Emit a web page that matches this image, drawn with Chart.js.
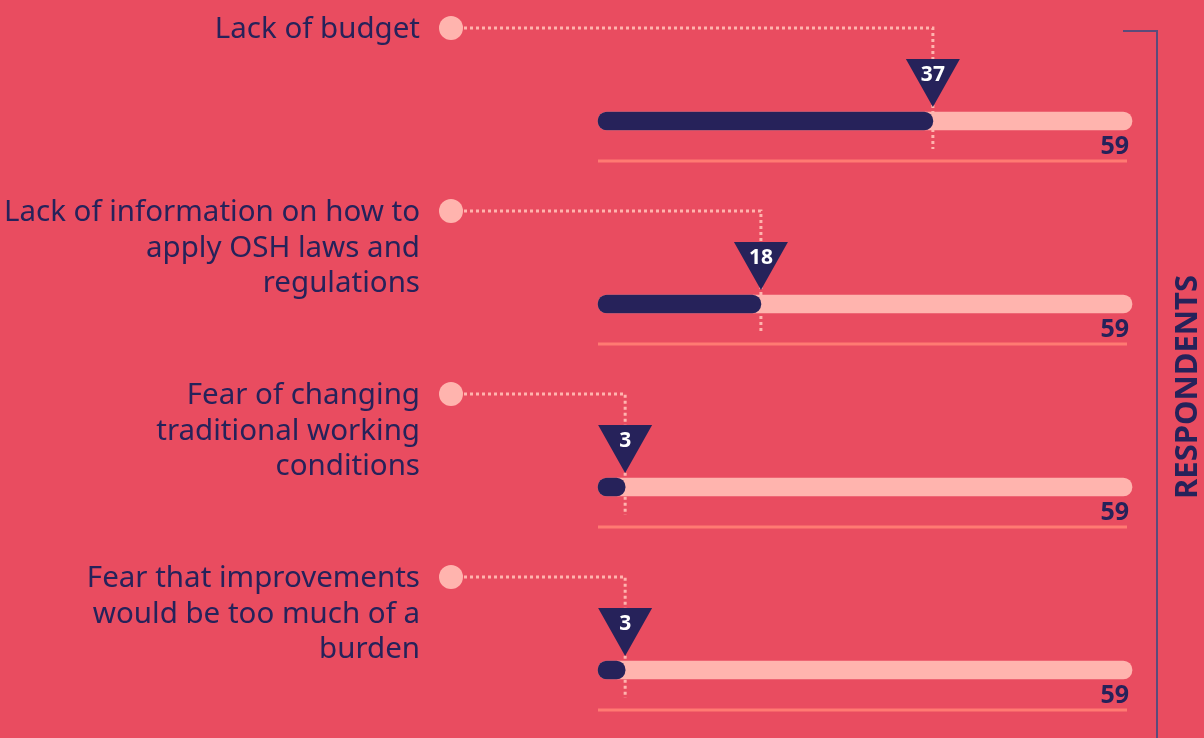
<!DOCTYPE html>
<html>
<head>
<meta charset="utf-8">
<script src="https://cdn.jsdelivr.net/npm/chart.js@4/dist/chart.umd.min.js"></script>
<style>
	html, body { margin: 0; padding: 0; background: #e94c60; overflow: hidden; }
	#wrap { position: relative; width: 1204px; height: 738px; }
</style>
</head>
<body>
<div id="wrap"><canvas id="chart"></canvas></div>
<script>
// chart data
const categories = [
	["Lack of budget"],
	["Lack of information on how to", "apply OSH laws and", "regulations"],
	["Fear of changing", "traditional working", "conditions"],
	["Fear that improvements", "would be too much of a", "burden"],
];
const respondents = [37, 18, 3, 3];
const totals = [59, 59, 59, 59];
const axisTitle = "RESPONDENTS";

const _navy_ = "#26225a";
const _pink_ = "#ffb4ae";
const _line_ = "#ff7a72";
const _bracket_ = "#5b4b7a";
const FONT = "'Noto Sans', 'Open Sans', sans-serif";

const decorPlugin = {
	id: "decor",
	beforeDatasetsDraw(chart) {
		const { ctx, scales } = chart;
		const { x, y } = scales;
		ctx.save();

		// bracket on the right
		ctx.strokeStyle = _bracket_;
		ctx.lineWidth = 2;
		ctx.beginPath();
		ctx.moveTo(1123, 31);
		ctx.lineTo(1157, 31);
		ctx.lineTo(1157, 738);
		ctx.stroke();

		respondents.forEach((value, i) => {
			const cy = y.getPixelForValue(i);
			const vx = x.getPixelForValue(value);
			const ly = cy - 93;

			// dotted connector
			ctx.strokeStyle = _pink_;
			ctx.lineWidth = 3;
			ctx.setLineDash([3, 3]);
			ctx.beginPath();
			ctx.moveTo(464, ly);
			ctx.lineTo(vx, ly);
			ctx.lineTo(vx, cy + 28);
			ctx.stroke();

			// underline
			ctx.setLineDash([]);
			ctx.strokeStyle = _line_;
			ctx.lineWidth = 3;
			ctx.beginPath();
			ctx.moveTo(x.left, cy + 40);
			ctx.lineTo(x.getPixelForValue(totals[i]) - 5, cy + 40);
			ctx.stroke();
		});
		ctx.restore();
	},
	afterDatasetsDraw(chart) {
		const { ctx, scales } = chart;
		const { x, y } = scales;
		ctx.save();

		respondents.forEach((value, i) => {
			const cy = y.getPixelForValue(i);
			const vx = x.getPixelForValue(value);
			const ly = cy - 93;

			// circle
			ctx.fillStyle = _pink_;
			ctx.beginPath();
			ctx.arc(451, ly, 12, 0, Math.PI * 2);
			ctx.fill();

			// category label
			ctx.fillStyle = _navy_;
			ctx.font = `29.5px ${FONT}`;
			ctx.textAlign = "right";
			ctx.textBaseline = "alphabetic";
			categories[i].forEach((line, k) => {
				ctx.fillText(line, 420, ly + 10 + k * 35.5);
			});

			// triangle marker
			ctx.fillStyle = _navy_;
			ctx.beginPath();
			ctx.moveTo(vx - 27, cy - 62);
			ctx.lineTo(vx + 27, cy - 62);
			ctx.lineTo(vx, cy - 14);
			ctx.closePath();
			ctx.fill();

			ctx.fillStyle = "#ffffff";
			ctx.font = `bold 21px ${FONT}`;
			ctx.textAlign = "center";
			ctx.textBaseline = "middle";
			ctx.fillText(String(value), vx, cy - 46);

			// total
			ctx.fillStyle = _navy_;
			ctx.font = `bold 25px ${FONT}`;
			ctx.textAlign = "right";
			ctx.textBaseline = "alphabetic";
			ctx.fillText(String(totals[i]), x.getPixelForValue(totals[i]) - 3, cy + 33);
		});

		// rotated axis title
		ctx.translate(1188, 387);
		ctx.rotate(-Math.PI / 2);
		ctx.fillStyle = _navy_;
		ctx.font = `bold 31px ${FONT}`;
		ctx.textAlign = "center";
		ctx.textBaseline = "middle";
		ctx.fillText(axisTitle, 0, 0);
		ctx.restore();
	},
};

new Chart(document.getElementById("chart"), {
	type: "bar",
	data: {
		labels: categories,
		datasets: [
			{
				label: "Respondents",
				data: respondents,
				backgroundColor: _navy_,
				barThickness: 18,
				borderRadius: 9,
				borderSkipped: false,
				grouped: false,
				clip: false,
			},
			{
				label: "Total",
				data: totals,
				backgroundColor: _pink_,
				barThickness: 18,
				borderRadius: 9,
				borderSkipped: false,
				grouped: false,
				clip: false,
			},
		],
	},
	options: {
		indexAxis: "y",
		responsive: true,
		maintainAspectRatio: false,
		animation: false,
		layout: { padding: { left: 598, right: 72, top: 121, bottom: 68 } },
		plugins: { legend: { display: false }, tooltip: { enabled: false } },
		scales: {
			x: { display: false, min: 0, max: 59 },
			y: { display: false, offset: false },
		},
	},
	plugins: [decorPlugin],
});
</script>
</body>
</html>
